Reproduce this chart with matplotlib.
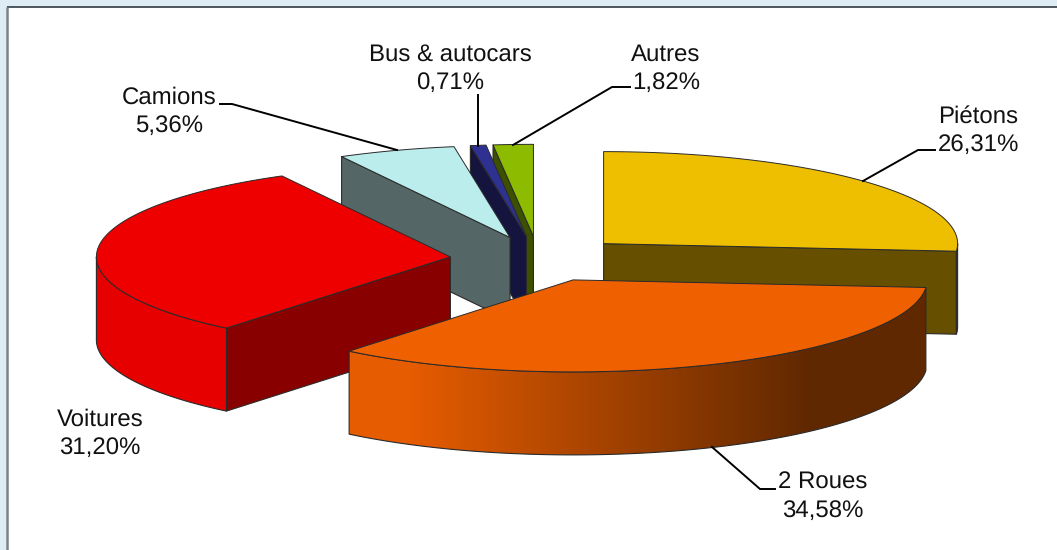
import numpy as np
import matplotlib
matplotlib.use("Agg")
import matplotlib.pyplot as plt
from matplotlib.patches import Polygon, Rectangle
from matplotlib.colors import to_rgb

categories = ["Piétons", "2 Roues", "Voitures", "Camions", "Bus & autocars", "Autres"]
values = [26.31, 34.58, 31.20, 5.36, 0.71, 1.82]
value_labels = ["26,31%", "34,58%", "31,20%", "5,36%", "0,71%", "1,82%"]
top_colors = ["#EEBE00", "#EF6000", "#EE0000", "#BCEDED", "#2E3192", "#8DBB00"]
side_colors = ["#665000", "#602800", "#880000", "#546666", "#14143F", "#3C5000"]
wall_light = ["#665000", "#E65C00", "#E60000", "#546666", "#14143F", "#3C5000"]
draw_order = ["Autres", "Bus & autocars", "Camions", "Piétons", "Voitures", "2 Roues"]
label_pos = {"Piétons": (978, 123), "2 Roues": (823, 489), "Voitures": (100, 426),
             "Camions": (169, 104), "Bus & autocars": (450, 61), "Autres": (666, 61)}
leaders = {"Piétons": [(935, 150), (918, 150), (863, 181)],
           "2 Roues": [(775, 489), (760, 489), (712, 447)],
           "Camions": [(220, 104), (232, 104), (397, 150)],
           "Bus & autocars": [(478, 95), (478, 146)],
           "Autres": [(630, 87), (612, 87), (513, 145)]}

CX, CY = 538.5, 259    # pie centre
RX, RY = 354, 92       # projected radii
KX, KY = 88.5, 22.7    # explosion offset
DEPTH = 83
LINE_GAP = 28
EDGE = "#2a2a2a"

plt.rcParams["font.family"] = ["Liberation Sans", "DejaVu Sans"]
plt.rcParams["text.hinting"] = "none"
fig = plt.figure(figsize=(10.57, 5.5), dpi=100, facecolor="#DEEDF5")
ax = fig.add_axes([0, 0, 1, 1])
ax.axis("off")
ax.add_patch(Rectangle((7, 7), 1200, 700, fc="white", ec="none", zorder=0))
ax.plot([7, 1057], [7, 7], color="#3F4A50", lw=1.3, zorder=1, solid_capstyle="butt")
ax.plot([7, 7], [7, 550], color="#7A858B", lw=1.8, zorder=1, solid_capstyle="butt")

bounds = np.cumsum([0] + values) / sum(values) * 360.0
slices = {}
for i, c in enumerate(categories):
    a0, a1 = bounds[i], bounds[i + 1]
    mid = np.radians((a0 + a1) / 2)
    slices[c] = dict(i=i, a0=a0, a1=a1,
                     cx=CX + KX * np.sin(mid), cy=CY - KY * np.cos(mid))


def rim(s, a0, a1, n=200, dy=0):
    th = np.radians(np.linspace(a0, a1, n))
    return np.column_stack([s["cx"] + RX * np.sin(th), s["cy"] - RY * np.cos(th) + dy])


def draw_radial(s, ang, col, z):
    p = rim(s, ang, ang, 1)[0]
    apex = (s["cx"], s["cy"])
    ax.add_patch(Polygon([apex, p, (p[0], p[1] + DEPTH), (apex[0], apex[1] + DEPTH)],
                         fc=col, ec=EDGE, lw=0.8, zorder=z, joinstyle="round"))


z = 2
for name in draw_order:
    s = slices[name]
    i = s["i"]
    a0, a1 = s["a0"], s["a1"]
    # radial faces turned towards the viewer
    for ang, sign in ((a0, -1), (a1, 1)):
        if sign * np.sin(np.radians(ang)) > 0:
            draw_radial(s, ang, side_colors[i], z)
            z += 1
    # outer wall on the front half, shaded left to right
    w0, w1 = max(a0, 90), min(a1, 270)
    if w1 > w0:
        outline = np.vstack([rim(s, w0, w1), rim(s, w0, w1, dy=DEPTH)[::-1]])
        xx = np.arange(int(outline[:, 0].min()) - 2, int(outline[:, 0].max()) + 3)
        t = np.clip((xx + 0.5 - 410) / (810 - 410), 0, 1)[None, :, None]
        light = np.array(to_rgb(wall_light[i]))[None, None, :]
        dark = np.array(to_rgb(side_colors[i] if name == "2 Roues" else wall_light[i]))[None, None, :]
        im = ax.imshow((1 - t) * light + t * dark, aspect="auto", zorder=z,
                       extent=(xx[0], xx[-1] + 1, outline[:, 1].max() + 2, outline[:, 1].min() - 2))
        clip = Polygon(outline, transform=ax.transData, fc="none", ec="none")
        im.set_clip_path(clip)
        z += 1
        ax.add_patch(Polygon(outline, fc="none", ec=EDGE, lw=0.8, zorder=z))
        z += 1
    # top face
    pts = np.vstack([[s["cx"], s["cy"]], rim(s, a0, a1)])
    ax.add_patch(Polygon(pts, fc=top_colors[i], ec=EDGE, lw=0.7, zorder=z, joinstyle="round"))
    z += 1

for name, pts in leaders.items():
    xs, ys = zip(*pts)
    ax.plot(xs, ys, color="black", lw=1.4, zorder=z, solid_joinstyle="miter")

for i, c in enumerate(categories):
    x, y = label_pos[c]
    ax.text(x, y, c, ha="center", va="baseline", fontsize=17.3, color="#111111", zorder=z + 1)
    ax.text(x, y + LINE_GAP, value_labels[i], ha="center", va="baseline", fontsize=17.3,
            color="#111111", zorder=z + 1)

ax.set_xlim(0, 1057)
ax.set_ylim(550, 0)
fig.savefig("out.png", dpi=100, facecolor=fig.get_facecolor())
